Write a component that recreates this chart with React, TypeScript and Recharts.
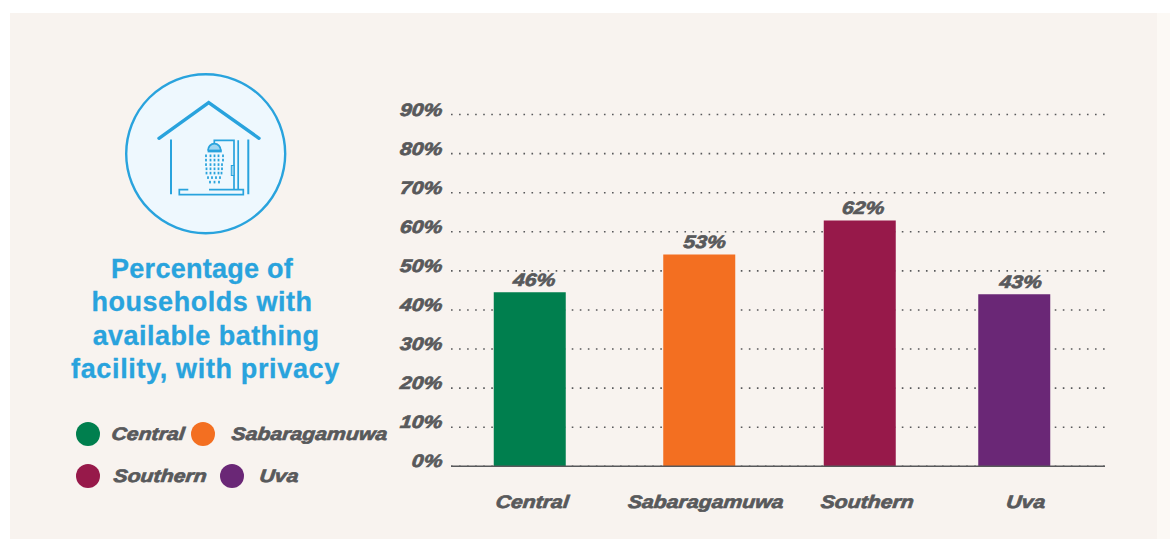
import { Bar, BarChart, CartesianGrid, LabelList, Rectangle, XAxis, YAxis } from "recharts";

const categories = ["Central", "Sabaragamuwa", "Southern", "Uva"];
const barValues = [44.5, 54.2, 62.9, 44];
const valueLabels = ["46%", "53%", "62%", "43%"];
const barColors = ["#007F4E", "#F36F21", "#97194A", "#6A2776"];
const yTicks = [0, 10, 20, 30, 40, 50, 60, 70, 80, 90];

// the source spaces its bars unevenly, so each is shifted from the band centre
const barShift = [-3, 3, 0, -9];
const labelShift = [1, 8, 3, -3];
const tickShift = [-1, 9, 7, 2];

const BLUE = "#29A3DD";
const GREY = "#58595B";
const FONT = "'Liberation Sans', Arial, sans-serif";

const data = categories.map((name, i) => ({ name, value: barValues[i] }));

function WideText({ x, y, children, anchor = "middle" }: any) {
  return (
    <text
      transform={`translate(${x} ${y}) scale(1.18 1) skewX(-5)`}
      textAnchor={anchor}
      fontFamily={FONT}
      fontSize={18}
      fontWeight={700}
      fontStyle="italic"
      fill={GREY}
      stroke={GREY}
      strokeWidth={0.7}
    >
      {children}
    </text>
  );
}

const dropRows = [
  { y: 155.7, xs: [206, 210.5, 214.5, 218.5, 223] },
  { y: 160, xs: [206, 210.5, 214.5, 218.5, 223] },
  { y: 164.5, xs: [206, 210.5, 214.5, 218.5, 222] },
  { y: 168.7, xs: [206.5, 210.5, 214.5, 218.5, 222] },
  { y: 173, xs: [206.5, 210.5, 214.5, 218.5, 221.5] },
  { y: 177.5, xs: [208, 212, 216, 220] },
  { y: 182, xs: [210, 214.5, 219] },
];

function ShowerIcon() {
  return (
    <g fill="none" stroke={BLUE}>
      <circle cx={205.7} cy={153.7} r={79.5} fill="#EEF8FE" strokeWidth={2.4} />
      <path d="M159 138.3 L208.7 102.7 L259 138.3" strokeWidth={3.4} strokeLinecap="round" strokeLinejoin="miter" />
      <path d="M171 139.5 V194.3 M248.3 139.5 V194.3" strokeWidth={2} />
      <path d="M188.3 189.6 H179.3 V194.6 H243.3 V189.6 H209" strokeWidth={1.7} />
      <path d="M234 189 V140.3 H214.3 V143.5 M238.2 140.3 V189" strokeWidth={1.7} />
      <path d="M208 150.5 A6.4 6.8 0 0 1 220.8 150.5" strokeWidth={1.8} fill="#9FD5F0" />
      <path d="M207.6 151 H221.8" strokeWidth={2.8} />
      <rect x={231.3} y={165.5} width={2.7} height={10} strokeWidth={1} fill="#9FD5F0" />
      {dropRows.map((row) =>
        row.xs.map((x) => <rect key={`${row.y}-${x}`} x={x - 0.9} y={row.y - 1.2} width={1.8} height={2.6} fill={BLUE} stroke="none" />),
      )}
    </g>
  );
}

const titleLines = [
  { text: "Percentage of", x: 202, y: 278, spacing: 0.25 },
  { text: "households with", x: 202, y: 311, spacing: 0.55 },
  { text: "available bathing", x: 206, y: 344.5, spacing: 0.45 },
  { text: "facility, with privacy", x: 205.5, y: 378, spacing: 0.65 },
];

const legendItems = [
  { dot: 88, text: 111, y: 434 },
  { dot: 203, text: 231, y: 434 },
  { dot: 88, text: 113, y: 476 },
  { dot: 232, text: 259, y: 476 },
];

function SidePanel() {
  return (
    <svg width={1170} height={539} style={{ position: "absolute", left: 0, top: 0 }}>
      <rect x={10} y={13} width={1147} height={526} fill="#F8F3EF" />
      <rect x={1157} y={13} width={13} height={526} fill="#FCF9F5" />
      <ShowerIcon />
      {titleLines.map((line) => (
        <text
          key={line.text}
          x={line.x}
          y={line.y}
          textAnchor="middle"
          fontFamily={FONT}
          fontSize={27}
          fontWeight={700}
          letterSpacing={line.spacing}
          fill={BLUE}
          stroke={BLUE}
          strokeWidth={0.3}
        >
          {line.text}
        </text>
      ))}
      {legendItems.map((item, i) => (
        <g key={categories[i]}>
          <circle cx={item.dot} cy={item.y} r={12} fill={barColors[i]} />
          <WideText x={item.text} y={item.y + 6} anchor="start">
            {categories[i]}
          </WideText>
        </g>
      ))}
    </svg>
  );
}

function BarShape(props: any) {
  const { x, y, width, height, index } = props;
  return <Rectangle x={x + barShift[index]} y={y} width={width} height={height} fill={barColors[index]} />;
}

function BarValueLabel(props: any) {
  const { x, y, width, index } = props;
  return (
    <WideText x={x + width / 2 + labelShift[index]} y={y - 6}>
      {valueLabels[index]}
    </WideText>
  );
}

function CategoryTick(props: any) {
  const { x, y, index, payload } = props;
  return (
    <WideText x={x + tickShift[index]} y={y + 34}>
      {payload.value}
    </WideText>
  );
}

function PercentTick(props: any) {
  const { y, payload } = props;
  return (
    <WideText x={442} y={y + 1} anchor="end">
      {`${payload.value}%`}
    </WideText>
  );
}

export default function App() {
  return (
    <div style={{ position: "absolute", left: 0, top: 0, width: 1170, height: 539, background: "#fff", overflow: "hidden" }}>
      <SidePanel />
      <div style={{ position: "absolute", left: 0, top: 0 }}>
        <BarChart
          width={1170}
          height={539}
          data={data}
          margin={{ top: 114.5, right: 65, bottom: 32.7, left: 391 }}
          barCategoryGap={45.75}
        >
          <CartesianGrid
            horizontal
            vertical={false}
            stroke="#58595B"
            strokeWidth={1.6}
            strokeDasharray="1.6 6.45"
          />
          <XAxis
            dataKey="name"
            height={40}
            tickLine={false}
            axisLine={{ stroke: "#58595B", strokeWidth: 1.4 }}
            tick={<CategoryTick />}
            interval={0}
          />
          <YAxis
            width={60}
            domain={[0, 90]}
            ticks={yTicks}
            axisLine={false}
            tickLine={false}
            tick={<PercentTick />}
            interval={0}
          />
          <Bar dataKey="value" isAnimationActive={false} shape={<BarShape />}>
            <LabelList dataKey="value" content={<BarValueLabel />} />
          </Bar>
        </BarChart>
      </div>
    </div>
  );
}
